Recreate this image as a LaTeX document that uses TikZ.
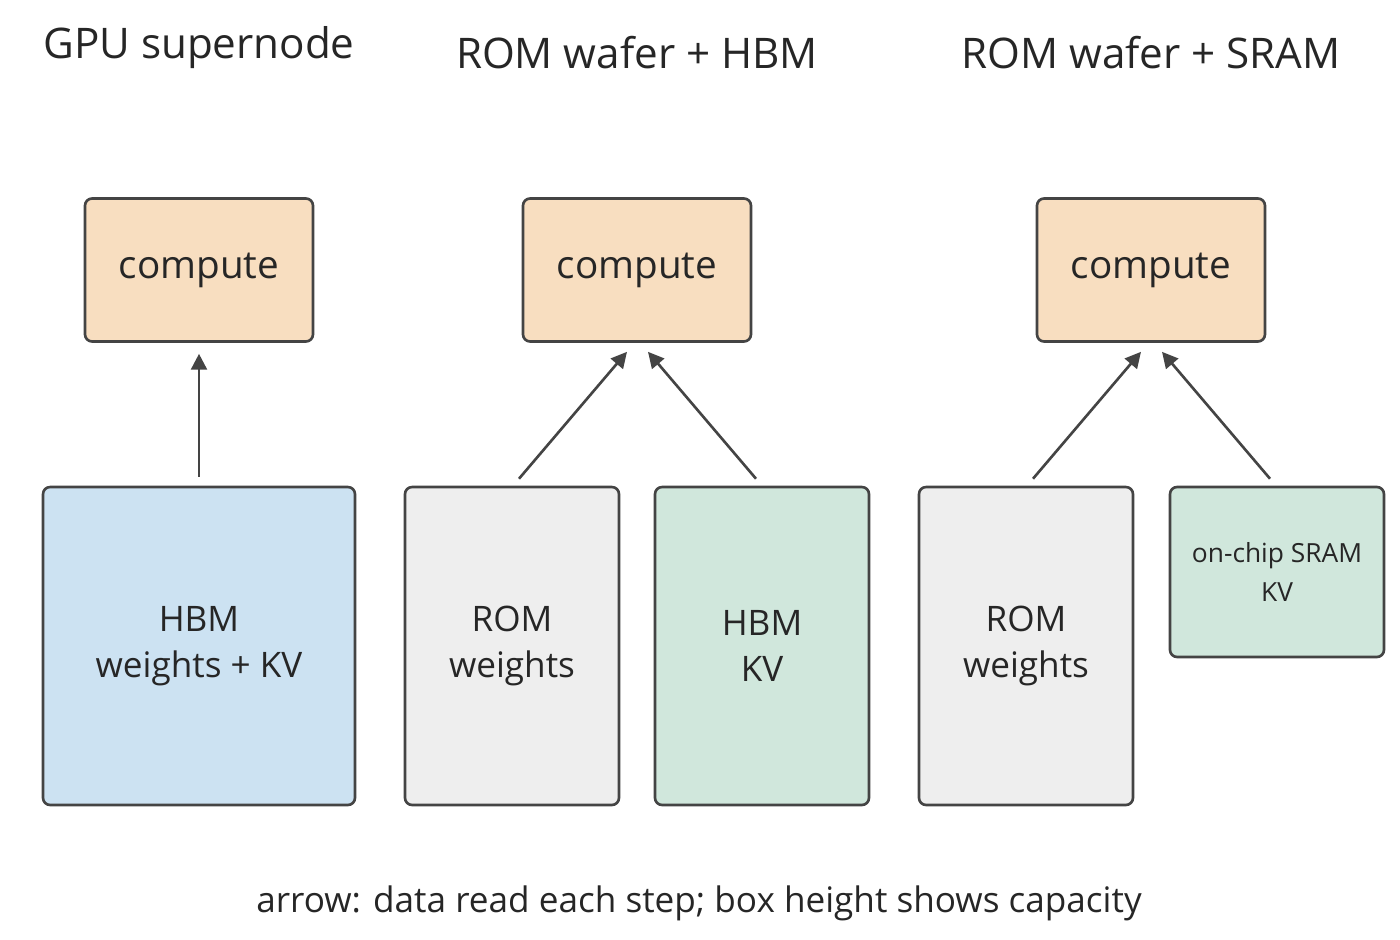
\documentclass[tikz,border=0pt]{standalone}
\usepackage{fontspec}
\setmainfont{Open Sans}
\usetikzlibrary{calc,positioning,arrows.meta}
\definecolor{cfill}{HTML}{F8DEC0}
\definecolor{bfill}{HTML}{CCE2F2}
\definecolor{gfill}{HTML}{EEEEEE}
\definecolor{kfill}{HTML}{D0E7DC}
\definecolor{edge}{HTML}{444444}
\tikzset{
  box/.style={draw=edge, line width=1.5pt, rounded corners=4pt, align=center, inner sep=0pt, text=black!85},
  comp/.style={box, fill=cfill, minimum width=4.56cm, minimum height=2.86cm, font=\fontsize{22}{26}\selectfont},
  mem/.style={box, minimum width=4.28cm, minimum height=6.36cm, font=\fontsize{20}{26}\selectfont},
  title/.style={font=\fontsize{24}{28}\selectfont, text=black!85},
  flow/.style={draw=edge, line width=1.5pt, -{Triangle[length=9pt,width=9pt]}}
}
\begin{document}
\begin{tikzpicture}[x=0.02cm, y=-0.02cm]
  \useasboundingbox (0,0) rectangle (1400,940);

  % titles
  \node[title] (t1) at (199,48) {GPU supernode};
  \node[title] (t2) at (637,53) {ROM wafer + HBM};
  \node[title] (t3) at (1151,53) {ROM wafer + SRAM};

  % compute units
  \node[comp] (c1) at (199,270) {compute};
  \node[comp] (c2) at (637,270) {compute};
  \node[comp] (c3) at (1151,270) {compute};

  % memories
  \node[mem, fill=bfill, minimum width=6.24cm] (hbm) at (199,646) {HBM\\weights + KV};
  \node[mem, fill=gfill] (rom1) at (512,646) {ROM\\weights};
  \node[mem, fill=kfill] (kv) at (762,646) {HBM\\KV};
  \node[mem, fill=gfill] (rom2) at (1026,646) {ROM\\weights};
  \node[mem, fill=kfill, minimum height=3.4cm, font=\fontsize{15}{22}\selectfont] (sram) at (1277,572) {on-chip SRAM\\KV};

  % arrows
  \coordinate (a1) at ($(c1.south)+(0,11)$);
  \coordinate (a2) at ($(c2.south)+(-10,9)$);
  \coordinate (a3) at ($(c2.south)+(11,9)$);
  \coordinate (a4) at ($(c3.south)+(-10,9)$);
  \coordinate (a5) at ($(c3.south)+(11,9)$);
  \draw[flow] ($(hbm.north)+(0,-9)$) -- (a1);
  \draw[flow] ($(rom1.north)+(7,-7)$) -- (a2);
  \draw[flow] ($(kv.north)+(-6,-7)$) -- (a3);
  \draw[flow] ($(rom2.north)+(7,-7)$) -- (a4);
  \draw[flow] ($(sram.north)+(-7,-7)$) -- (a5);

  \node[font=\fontsize{20}{24}\selectfont, text=black!85] (cap) at (699,903) {arrow: data read each step; box height shows capacity};
\end{tikzpicture}
\end{document}
